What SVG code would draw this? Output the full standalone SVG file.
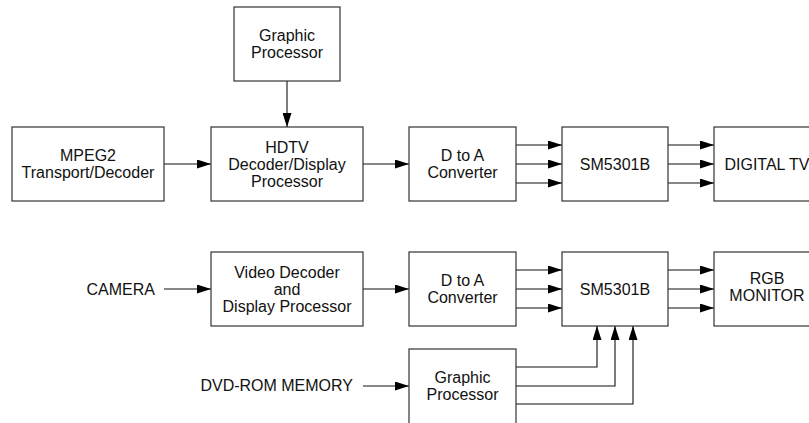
<svg xmlns="http://www.w3.org/2000/svg" width="809" height="423" viewBox="0 0 809 423">
<style>
.box{fill:#fff;stroke:#333;stroke-width:1.2}
.t{font-family:"Liberation Sans",Arial,sans-serif;font-size:16px;fill:#111;text-anchor:middle}
.te{font-family:"Liberation Sans",Arial,sans-serif;font-size:16px;fill:#111;text-anchor:end}
.c{fill:none;stroke:#111;stroke-width:1.1}
</style>
<defs>
<marker id="ah" markerUnits="userSpaceOnUse" markerWidth="14" markerHeight="9" refX="14" refY="4.5" orient="auto">
<path d="M0,0 L14,4.5 L0,9 z" fill="#000"/>
</marker>
</defs>
<rect width="809" height="423" fill="#fff"/>
<g id="connectors">
<path class="c" marker-end="url(#ah)" d="M287,81 V127"/>
<path class="c" marker-end="url(#ah)" d="M164,164 H211"/>
<path class="c" marker-end="url(#ah)" d="M363,164 H409"/>
<path class="c" marker-end="url(#ah)" d="M516,145 H562"/>
<path class="c" marker-end="url(#ah)" d="M516,164 H562"/>
<path class="c" marker-end="url(#ah)" d="M516,183 H562"/>
<path class="c" marker-end="url(#ah)" d="M668,145 H714"/>
<path class="c" marker-end="url(#ah)" d="M668,164 H714"/>
<path class="c" marker-end="url(#ah)" d="M668,183 H714"/>
<path class="c" marker-end="url(#ah)" d="M164,289 H211"/>
<path class="c" marker-end="url(#ah)" d="M363,289 H409"/>
<path class="c" marker-end="url(#ah)" d="M516,270 H562"/>
<path class="c" marker-end="url(#ah)" d="M516,289 H562"/>
<path class="c" marker-end="url(#ah)" d="M516,308 H562"/>
<path class="c" marker-end="url(#ah)" d="M668,270 H714"/>
<path class="c" marker-end="url(#ah)" d="M668,289 H714"/>
<path class="c" marker-end="url(#ah)" d="M668,308 H714"/>
<path class="c" marker-end="url(#ah)" d="M363,386 H409"/>
<path class="c" marker-end="url(#ah)" d="M516,367 H597 V326"/>
<path class="c" marker-end="url(#ah)" d="M516,386 H615 V326"/>
<path class="c" marker-end="url(#ah)" d="M516,404 H633 V326"/>
</g>
<g id="graphic-top">
<rect class="box" x="234" y="7" width="106" height="74"/>
<text class="t" x="287" y="41">Graphic</text>
<text class="t" x="287" y="58">Processor</text>
</g>
<g id="mpeg2">
<rect class="box" x="12" y="127" width="152" height="74"/>
<text class="t" x="88" y="161">MPEG2</text>
<text class="t" x="88" y="178">Transport/Decoder</text>
</g>
<g id="hdtv">
<rect class="box" x="211" y="127" width="152" height="74"/>
<text class="t" x="287" y="152.5">HDTV</text>
<text class="t" x="287" y="169.5">Decoder/Display</text>
<text class="t" x="287" y="186.5">Processor</text>
</g>
<g id="dac-top">
<rect class="box" x="409" y="127" width="107" height="74"/>
<text class="t" x="462.5" y="161">D to A</text>
<text class="t" x="462.5" y="178">Converter</text>
</g>
<g id="sm-top">
<rect class="box" x="562" y="127" width="106" height="74"/>
<text class="t" x="615" y="170">SM5301B</text>
</g>
<g id="digital-tv">
<rect class="box" x="714" y="127" width="106" height="74"/>
<text class="t" x="767" y="170">DIGITAL TV</text>
</g>
<g id="camera">
<text class="te" x="155" y="295">CAMERA</text>
</g>
<g id="video-decoder">
<rect class="box" x="211" y="252" width="152" height="74"/>
<text class="t" x="287" y="277.5">Video Decoder</text>
<text class="t" x="287" y="294.5">and</text>
<text class="t" x="287" y="311.5">Display Processor</text>
</g>
<g id="dac-bottom">
<rect class="box" x="409" y="252" width="107" height="74"/>
<text class="t" x="462.5" y="286">D to A</text>
<text class="t" x="462.5" y="303">Converter</text>
</g>
<g id="sm-bottom">
<rect class="box" x="562" y="252" width="106" height="74"/>
<text class="t" x="615" y="295">SM5301B</text>
</g>
<g id="rgb-monitor">
<rect class="box" x="714" y="252" width="106" height="74"/>
<text class="t" x="767" y="284">RGB</text>
<text class="t" x="767" y="301">MONITOR</text>
</g>
<g id="dvd-rom">
<text class="te" x="353" y="391">DVD-ROM MEMORY</text>
</g>
<g id="graphic-bottom">
<rect class="box" x="409" y="349" width="107" height="80"/>
<text class="t" x="462.5" y="383">Graphic</text>
<text class="t" x="462.5" y="400">Processor</text>
</g>
</svg>
